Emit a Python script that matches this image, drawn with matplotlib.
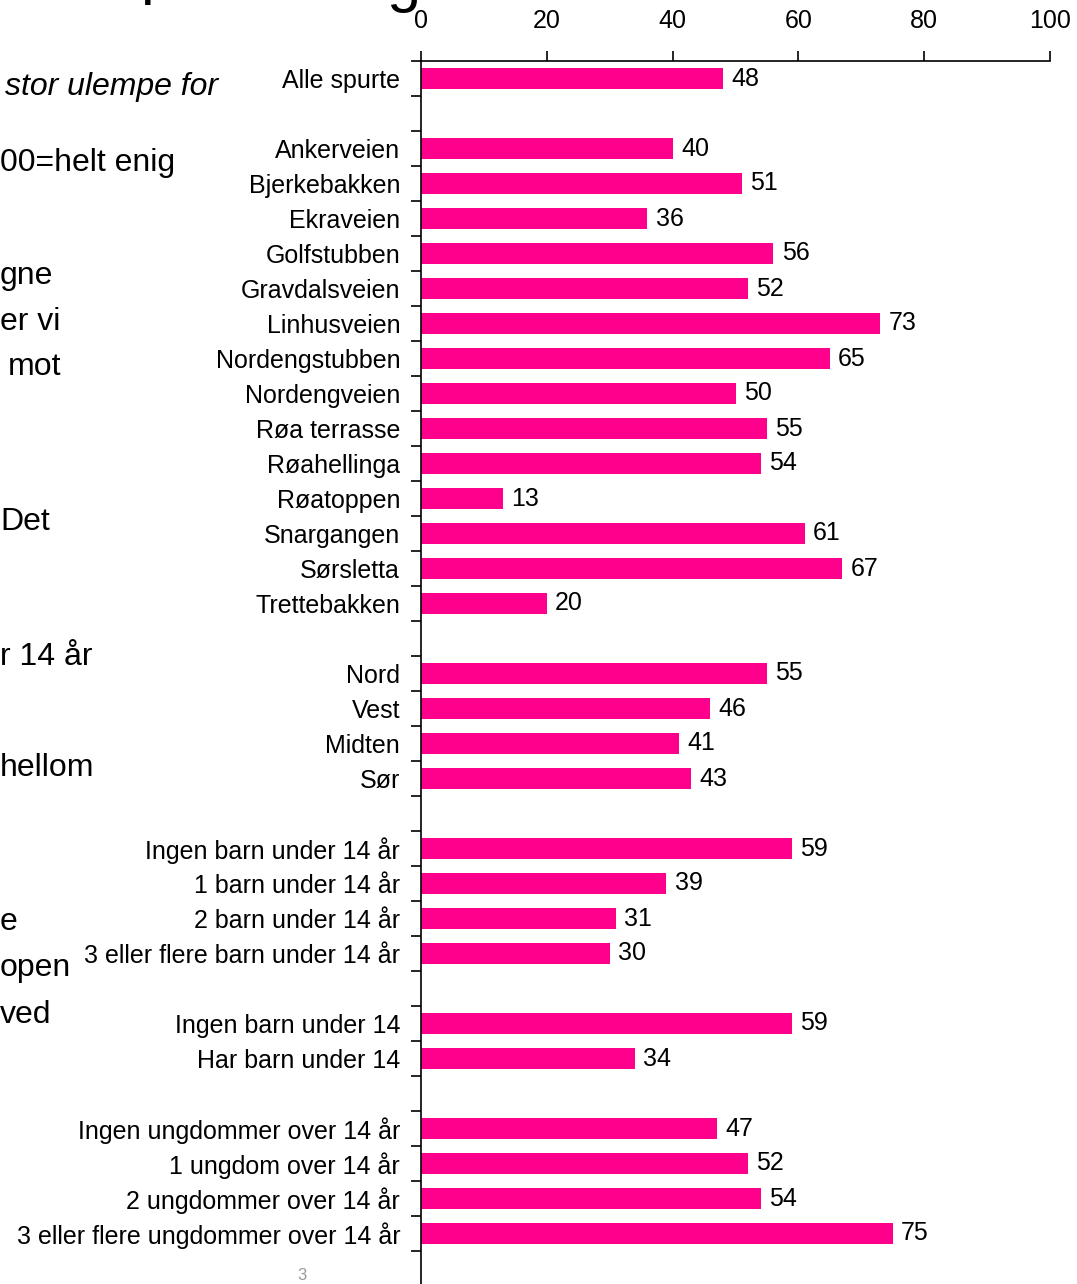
import numpy as np
import matplotlib
matplotlib.use("Agg")
import matplotlib.pyplot as plt

plt.rcParams['font.family'] = ['Liberation Sans', 'DejaVu Sans']

# ---- data ----
overall_labels = ["Alle spurte"]
overall_values = [48]

street_labels = ["Ankerveien", "Bjerkebakken", "Ekraveien", "Golfstubben", "Gravdalsveien",
                 "Linhusveien", "Nordengstubben", "Nordengveien", "Røa terrasse", "Røahellinga",
                 "Røatoppen", "Snargangen", "Sørsletta", "Trettebakken"]
street_values = [40, 51, 36, 56, 52, 73, 65, 50, 55, 54, 13, 61, 67, 20]

area_labels = ["Nord", "Vest", "Midten", "Sør"]
area_values = [55, 46, 41, 43]

kids_labels = ["Ingen barn under 14 år", "1 barn under 14 år", "2 barn under 14 år",
               "3 eller flere barn under 14 år"]
kids_values = [59, 39, 31, 30]

haskids_labels = ["Ingen barn under 14", "Har barn under 14"]
haskids_values = [59, 34]

youth_labels = ["Ingen ungdommer over 14 år", "1 ungdom over 14 år", "2 ungdommer over 14 år",
                "3 eller flere ungdommer over 14 år"]
youth_values = [47, 52, 54, 75]

x_ticks = [0, 20, 40, 60, 80, 100]

groups = [(overall_labels, overall_values), (street_labels, street_values),
          (area_labels, area_values), (kids_labels, kids_values),
          (haskids_labels, haskids_values), (youth_labels, youth_values)]

labels, values = [], []
for gi, (lab, val) in enumerate(groups):
    if gi > 0:
        labels.append("")
        values.append(np.nan)
    labels.extend(lab)
    values.extend(val)

n = len(labels)
pos = np.arange(n)

W, H = 1077, 1284
fig = plt.figure(figsize=(W / 100, H / 100), dpi=100)
top_px, left_px, right_px = 61, 421, 1050
row_px = 35.0
ax = fig.add_axes([left_px / W, 0, (right_px - left_px) / W, (H - top_px) / H])

color = '#FF008C'
vals = np.array(values, dtype=float)
mask = ~np.isnan(vals)
ax.barh(pos[mask], vals[mask], height=0.62, color=color)

for p, v in zip(pos[mask], vals[mask]):
    ax.annotate(f"{int(v)}", xy=(v, p), xytext=(6, 0), textcoords='offset points',
                va='center', ha='left', fontsize=18)

ax.set_xlim(0, 100)
ax.set_ylim(-0.5 + (H - top_px) / row_px, -0.5)

ax.xaxis.tick_top()
ax.set_xticks(x_ticks)
ax.set_xticklabels([str(t) for t in x_ticks])
ax.tick_params(axis='x', direction='out', length=7, width=1.2, labelsize=18, pad=13)

ax.set_yticks(np.arange(-0.5, n, 1.0))
ax.set_yticklabels([])
ax.tick_params(axis='y', which='major', direction='out', length=7, width=1.2)
ax.set_yticks(pos, labels, minor=True)
ax.tick_params(axis='y', which='minor', length=0, labelsize=18, pad=15)

for s in ['right', 'bottom']:
    ax.spines[s].set_visible(False)
for s in ['top', 'left']:
    ax.spines[s].set_linewidth(1.2)
    ax.spines[s].set_color('black')

# ---- cropped slide text on the left ----
frag = [("stor ulempe for", 5, 87, True), ("00=helt enig", 0, 163, False),
        ("gne", 0, 276, False), ("er vi", 0, 322, False), ("mot", 8, 367, False),
        ("Det", 0, 522, False), ("r 14 år", 0, 657, False), ("hellom", 0, 768, False),
        ("e", 0, 922, False), ("open", 0, 968, False), ("ved", 0, 1015, False)]
for t, x, y, it in frag:
    fig.text(x / W, 1 - y / H, t, fontsize=23, ha='left', va='center',
             style='italic' if it else 'normal')

# title fragment (mostly outside the picture)
fig.text(140 / W, 1 + 8 / H, "p", fontsize=44, ha='left', va='baseline')
fig.text(386 / W, 1 + 0 / H, "g", fontsize=44, ha='left', va='baseline')

# page number
fig.text(302 / W, 1 - 1275 / H, "3", fontsize=12, color='#999999', ha='center', va='center')

fig.savefig("out.png", dpi=100)
